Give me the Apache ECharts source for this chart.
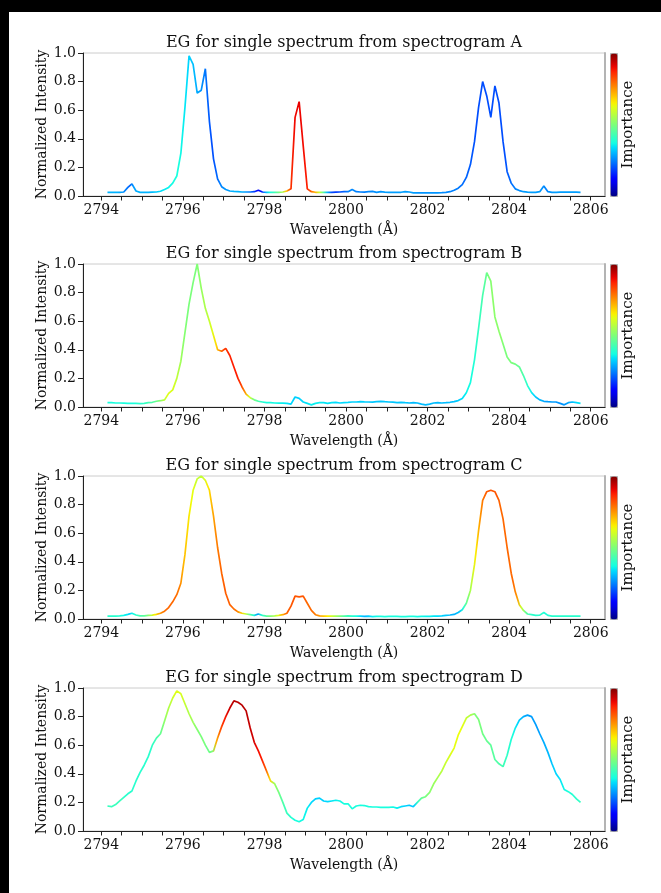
<!DOCTYPE html>
<html>
<head>
<meta charset="utf-8">
<script src="https://cdn.jsdelivr.net/npm/echarts@6/dist/echarts.min.js"></script>
<style>
  html, body { margin: 0; padding: 0; background: #fff; }
  #chart { width: 661px; height: 893px; }
</style>
</head>
<body>
<div id="chart"></div>
<script>
// wavelength grid (Å)
const wavelength = [
  2794.15, 2794.25, 2794.35, 2794.45, 2794.55, 2794.65, 2794.75, 2794.85, 2794.95, 2795.05,
  2795.15, 2795.25, 2795.35, 2795.45, 2795.55, 2795.65, 2795.75, 2795.85, 2795.95, 2796.05,
  2796.15, 2796.25, 2796.35, 2796.45, 2796.55, 2796.65, 2796.75, 2796.85, 2796.95, 2797.05,
  2797.15, 2797.25, 2797.35, 2797.45, 2797.55, 2797.65, 2797.75, 2797.85, 2797.95, 2798.05,
  2798.15, 2798.25, 2798.35, 2798.45, 2798.55, 2798.65, 2798.75, 2798.85, 2798.95, 2799.05,
  2799.15, 2799.25, 2799.35, 2799.45, 2799.55, 2799.65, 2799.75, 2799.85, 2799.95, 2800.05,
  2800.15, 2800.25, 2800.35, 2800.45, 2800.55, 2800.65, 2800.75, 2800.85, 2800.95, 2801.05,
  2801.15, 2801.25, 2801.35, 2801.45, 2801.55, 2801.65, 2801.75, 2801.85, 2801.95, 2802.05,
  2802.15, 2802.25, 2802.35, 2802.45, 2802.55, 2802.65, 2802.75, 2802.85, 2802.95, 2803.05,
  2803.15, 2803.25, 2803.35, 2803.45, 2803.55, 2803.65, 2803.75, 2803.85, 2803.95, 2804.05,
  2804.15, 2804.25, 2804.35, 2804.45, 2804.55, 2804.65, 2804.75, 2804.85, 2804.95, 2805.05,
  2805.15, 2805.25, 2805.35, 2805.45, 2805.55, 2805.65, 2805.75
];

// spectrogram A
const intensityA = [
  .025, .025, .025, .025, .028, .06, .085, .035, .025, .025,
  .025, .027, .028, .033, .045, .06, .09, .14, .3, .62,
  .98, .92, .72, .74, .89, .52, .26, .12, .065, .045,
  .035, .032, .03, .028, .028, .028, .03, .04, .028, .025,
  .025, .025, .026, .028, .035, .05, .55, .66, .35, .05,
  .03, .026, .025, .025, .025, .026, .027, .028, .03, .03,
  .045, .03, .028, .027, .03, .032, .025, .03, .027, .026,
  .026, .025, .026, .03, .028, .022, .022, .022, .022, .022,
  .022, .022, .023, .025, .03, .04, .055, .08, .13, .22,
  .38, .62, .8, .7, .55, .77, .65, .38, .17, .09,
  .05, .038, .03, .027, .025, .025, .03, .07, .03, .025,
  .025, .027, .027, .028, .027, .027, .025
];
const importanceA = [
  .3, .3, .3, .3, .28, .25, .22, .28, .3, .3,
  .3, .3, .32, .33, .35, .36, .37, .38, .38, .36,
  .34, .32, .3, .28, .25, .22, .2, .22, .25, .27,
  .28, .3, .3, .3, .28, .25, .2, .12, .15, .3,
  .38, .42, .48, .55, .7, .85, .9, .91, .9, .88,
  .8, .72, .6, .45, .3, .2, .18, .2, .22, .25,
  .26, .25, .25, .25, .26, .26, .27, .27, .28, .28,
  .28, .28, .28, .28, .28, .28, .27, .27, .27, .27,
  .27, .27, .26, .26, .25, .25, .24, .23, .22, .21,
  .2, .2, .2, .2, .2, .2, .2, .2, .22, .24,
  .26, .27, .28, .28, .28, .28, .27, .25, .27, .28,
  .28, .28, .28, .28, .28, .28, .28
];

// spectrogram B
const intensityB = [
  .03, .03, .028, .028, .027, .026, .026, .025, .023, .025,
  .03, .033, .04, .044, .05, .095, .12, .2, .32, .52,
  .72, .87, 1.0, .83, .69, .6, .5, .4, .39, .41,
  .36, .28, .2, .14, .09, .065, .05, .04, .035, .03,
  .03, .028, .027, .027, .025, .02, .07, .06, .035, .025,
  .015, .025, .03, .03, .025, .03, .032, .028, .03, .032,
  .035, .035, .038, .036, .035, .034, .038, .04, .037, .035,
  .034, .03, .033, .03, .028, .03, .028, .02, .015, .02,
  .028, .03, .028, .03, .033, .038, .045, .06, .1, .17,
  .33, .55, .78, .94, .88, .63, .53, .44, .35, .31,
  .3, .28, .22, .15, .1, .07, .05, .04, .037, .035,
  .035, .025, .015, .03, .035, .03, .025
];
const importanceB = [
  .38, .38, .38, .38, .38, .38, .38, .38, .4, .4,
  .42, .44, .46, .5, .55, .62, .62, .6, .56, .52,
  .5, .5, .5, .52, .55, .58, .62, .68, .78, .85,
  .87, .88, .88, .85, .75, .62, .5, .45, .4, .38,
  .38, .37, .37, .36, .35, .34, .33, .33, .34, .35,
  .36, .36, .36, .35, .35, .35, .34, .34, .34, .34,
  .33, .33, .33, .33, .32, .32, .32, .32, .32, .32,
  .32, .32, .32, .32, .31, .31, .31, .31, .31, .31,
  .31, .31, .31, .31, .31, .32, .33, .35, .37, .38,
  .4, .42, .45, .5, .52, .52, .52, .5, .5, .5,
  .48, .46, .42, .38, .34, .31, .3, .28, .28, .28,
  .27, .27, .28, .3, .33, .35, .36
];

// spectrogram C
const intensityC = [
  .02, .02, .02, .022, .025, .032, .04, .028, .022, .022,
  .025, .027, .032, .04, .055, .08, .12, .17, .25, .45,
  .72, .9, .98, 1.0, .97, .9, .72, .5, .32, .18,
  .1, .07, .05, .04, .035, .03, .025, .035, .025, .02,
  .02, .022, .025, .03, .04, .09, .16, .155, .16, .11,
  .06, .03, .022, .02, .02, .02, .02, .02, .02, .022,
  .02, .02, .02, .018, .02, .017, .018, .018, .017, .018,
  .018, .018, .017, .017, .018, .018, .017, .018, .018, .019,
  .02, .02, .022, .025, .028, .032, .045, .065, .11, .2,
  .38, .62, .83, .89, .9, .89, .83, .7, .5, .32,
  .19, .1, .06, .035, .03, .025, .027, .045, .025, .02,
  .02, .02, .02, .02, .02, .02, .02
];
const importanceC = [
  .4, .4, .4, .4, .38, .36, .33, .38, .42, .45,
  .48, .55, .65, .72, .78, .8, .8, .8, .78, .72,
  .68, .64, .6, .58, .6, .66, .72, .77, .8, .81,
  .81, .8, .78, .7, .6, .48, .4, .28, .4, .45,
  .5, .55, .62, .72, .8, .82, .82, .82, .82, .8,
  .8, .78, .75, .7, .66, .6, .55, .5, .45, .42,
  .4, .38, .34, .3, .33, .36, .37, .38, .38, .38,
  .38, .38, .38, .38, .38, .38, .37, .37, .36, .36,
  .35, .34, .33, .32, .3, .3, .32, .4, .5, .58,
  .66, .75, .8, .82, .82, .82, .8, .8, .8, .8,
  .75, .6, .48, .42, .4, .4, .4, .38, .4, .4,
  .4, .4, .4, .4, .4, .4, .4
];

// spectrogram D
const intensityD = [
  .175, .17, .185, .21, .235, .26, .28, .35, .41, .46,
  .52, .6, .65, .68, .77, .86, .93, .98, .96, .89,
  .82, .76, .71, .66, .6, .55, .56, .65, .73, .8,
  .86, .91, .9, .88, .84, .72, .62, .56, .49, .42,
  .35, .33, .27, .2, .125, .095, .075, .065, .08, .16,
  .2, .225, .23, .21, .205, .21, .215, .21, .19, .19,
  .155, .175, .18, .178, .17, .168, .168, .165, .165, .165,
  .168, .16, .17, .175, .18, .17, .2, .23, .24, .27,
  .33, .375, .42, .48, .53, .58, .67, .73, .79, .81,
  .82, .78, .68, .63, .6, .5, .47, .45, .53, .64,
  .72, .775, .8, .81, .8, .745, .68, .62, .55, .47,
  .4, .36, .29, .275, .255, .225, .2
];
const importanceD = [
  .4, .42, .42, .42, .42, .4, .4, .4, .4, .4,
  .4, .4, .42, .45, .5, .55, .58, .62, .62, .6,
  .57, .55, .52, .5, .5, .48, .5, .72, .82, .88,
  .93, .95, .95, .95, .95, .94, .93, .9, .88, .82,
  .68, .55, .5, .45, .42, .4, .38, .38, .37, .36,
  .34, .33, .33, .33, .34, .35, .36, .37, .38, .38,
  .38, .38, .38, .38, .38, .38, .38, .38, .38, .38,
  .37, .36, .34, .33, .32, .33, .42, .48, .5, .52,
  .54, .56, .58, .6, .62, .63, .64, .62, .58, .55,
  .5, .5, .48, .47, .46, .45, .44, .42, .4, .38,
  .34, .31, .29, .28, .28, .28, .29, .3, .31, .33,
  .34, .36, .38, .39, .4, .41, .42
];

const panelNames = ['A', 'B', 'C', 'D'];
const intensities = [intensityA, intensityB, intensityC, intensityD];
const importances = [importanceA, importanceB, importanceC, importanceD];
const labelTicks = [2794, 2796, 2798, 2800, 2802, 2804, 2806];
const allTicks = [2794, 2794.5, 2795, 2795.5, 2796, 2796.5, 2797, 2797.5, 2798, 2798.5,
  2799, 2799.5, 2800, 2800.5, 2801, 2801.5, 2802, 2802.5, 2803, 2803.5, 2804, 2804.5,
  2805, 2805.5, 2806];

const FONT = 'DejaVu Serif';
const panelTops = [53, 264, 476, 688];
const plotLeft = 83, plotWidth = 522, plotHeight = 143;

// matplotlib jet colormap
function jet(v) {
  v = Math.max(0, Math.min(1, v));
  const seg = pts => {
    for (let k = 1; k < pts.length; k++) {
      if (v <= pts[k][0]) {
        const [x0, y0] = pts[k - 1], [x1, y1] = pts[k];
        return y0 + (y1 - y0) * (v - x0) / (x1 - x0);
      }
    }
    return pts[pts.length - 1][1];
  };
  const r = seg([[0, 0], [0.35, 0], [0.66, 1], [0.89, 1], [1, 0.5]]);
  const g = seg([[0, 0], [0.125, 0], [0.375, 1], [0.64, 1], [0.91, 0], [1, 0]]);
  const b = seg([[0, 0.5], [0.11, 1], [0.34, 1], [0.65, 0], [1, 0]]);
  return `rgb(${Math.round(r * 255)},${Math.round(g * 255)},${Math.round(b * 255)})`;
}
const jetColors = [];
for (let k = 0; k <= 32; k++) jetColors.push(jet(k / 32));

function lineGradient(importance) {
  const x0 = wavelength[0], x1 = wavelength[wavelength.length - 1];
  return new echarts.graphic.LinearGradient(0, 0, 1, 0,
    wavelength.map((w, i) => ({ offset: (w - x0) / (x1 - x0), color: jet(importance[i]) })));
}

const textStyle = { fontFamily: FONT, fontSize: 14, color: '#111' };

const grid = [], xAxis = [], yAxis = [], series = [], visualMap = [], graphic = [];

panelTops.forEach((top, i) => {
  grid.push({
    left: plotLeft, top: top, width: plotWidth, height: plotHeight,
    show: true, borderColor: '#cccccc', borderWidth: 1
  });
  xAxis.push({
    type: 'value', gridIndex: i, min: 2793.55, max: 2806.35, position: 'bottom',
    axisLine: { show: true, onZero: false, lineStyle: { color: '#222', width: 1 } },
    axisTick: { show: true, customValues: allTicks, length: 4.5, lineStyle: { color: '#222' } },
    axisLabel: { customValues: labelTicks, margin: 7, formatter: v => String(v), ...textStyle },
    splitLine: { show: false },
    name: 'Wavelength (Å)', nameLocation: 'middle', nameGap: 27, nameMoveOverlap: false,
    nameTextStyle: { ...textStyle }
  });
  yAxis.push({
    type: 'value', gridIndex: i, min: 0, max: 1, interval: 0.2,
    axisLine: { show: true, lineStyle: { color: '#222', width: 1 } },
    axisTick: { show: true, length: 5, lineStyle: { color: '#222' } },
    axisLabel: { margin: 7, formatter: v => v.toFixed(1), ...textStyle },
    splitLine: { show: false },
    name: 'Normalized Intensity', nameLocation: 'middle', nameGap: 34, nameMoveOverlap: false,
    nameTextStyle: { ...textStyle }
  });
  yAxis.push({
    type: 'value', gridIndex: i, min: 0, max: 1, position: 'right',
    axisLine: { show: true, lineStyle: { color: '#b4b4b4', width: 2 } },
    axisTick: { show: false }, axisLabel: { show: false }, splitLine: { show: false }
  });
  series.push({
    name: 'Spectrogram ' + panelNames[i],
    type: 'line', xAxisIndex: i, yAxisIndex: 2 * i,
    data: wavelength.map((w, k) => [w, intensities[i][k]]),
    symbol: 'none', showSymbol: false,
    lineStyle: { width: 1.7, color: lineGradient(importances[i]) },
    silent: true
  });
  visualMap.push({
    type: 'continuous', seriesIndex: [], min: 0, max: 1,
    left: 610, top: top, itemWidth: 7, itemHeight: plotHeight,
    calculable: false, padding: 0, borderColor: '#aaaaaa', borderWidth: 1,
    inRange: { color: jetColors }
  });
  graphic.push({
    type: 'text', x: plotLeft + plotWidth / 2, y: top - 10,
    style: {
      text: 'EG for single spectrum from spectrogram ' + panelNames[i],
      font: `16px "${FONT}"`, fill: '#111', textAlign: 'center', textVerticalAlign: 'middle'
    }
  });
  graphic.push({
    type: 'text', x: 628, y: top + plotHeight / 2, rotation: Math.PI / 2,
    style: {
      text: 'Importance', font: `15px "${FONT}"`, fill: '#111',
      textAlign: 'center', textVerticalAlign: 'middle'
    }
  });
});

// black edges of the original screenshot
graphic.push({ type: 'rect', shape: { x: 0, y: 0, width: 661, height: 12 }, style: { fill: '#000' } });
graphic.push({ type: 'rect', shape: { x: 0, y: 0, width: 9, height: 893 }, style: { fill: '#000' } });

const chart = echarts.init(document.getElementById('chart'));
chart.setOption({
  animation: false,
  backgroundColor: '#fff',
  grid, xAxis, yAxis, series, visualMap, graphic
});
</script>
</body>
</html>
